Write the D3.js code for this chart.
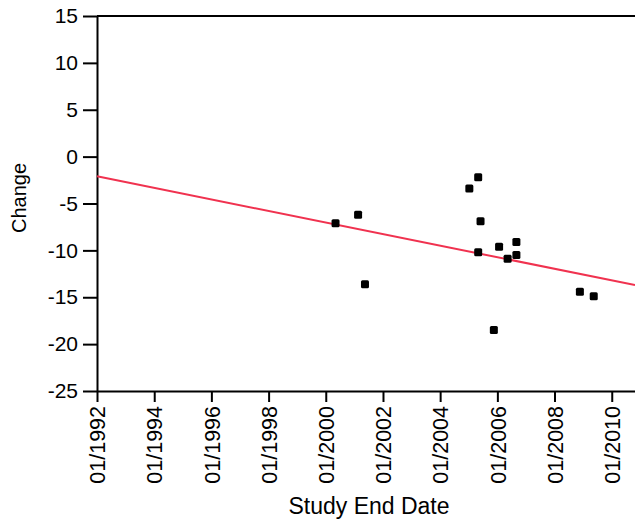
<!DOCTYPE html>
<html lang="en">
<head>
<meta charset="UTF-8">
<script src="https://d3js.org/d3.v7.min.js"></script>
<title>Change vs Study End Date</title>
<style>
  body { margin: 0; background: #fff; }
  text { font-family: "Liberation Sans", Arial, sans-serif; fill: #000; }
</style>
</head>
<body>
<script>
// values
const studyEndDates = ["2000-05-05", "2001-02-17", "2001-05-16", "2005-01-08", "2005-05-01",
  "2005-05-31", "2005-05-01", "2005-11-17", "2006-01-23", "2006-09-01",
  "2006-09-01", "2006-05-12", "2008-11-20", "2009-05-16"];
const changeValues = [-7.1, -6.2, -13.6, -3.4, -2.2, -6.9, -10.2, -18.5, -9.6, -9.1, -10.5, -10.9, -14.4, -14.9];
// fitted trend line, end points
const fitDates = ["1992-01-01", "2010-10-25"];
const fitValues = [-2.1, -13.7];
const yTicks = [15, 10, 5, 0, -5, -10, -15, -20, -25];

const width = 635, height = 519;
const margin = {top: 16, right: 0, bottom: 128, left: 97};
const parse = d3.timeParse("%Y-%m-%d");

const points = studyEndDates.map((d, i) => ({date: parse(d), value: changeValues[i]}));
const fit = fitDates.map((d, i) => ({date: parse(d), value: fitValues[i]}));

const svg = d3.select("body").append("svg")
  .attr("width", width)
  .attr("height", height);

const x = d3.scaleTime()
  .domain([parse("1992-01-01"), parse("2010-10-25")])
  .range([margin.left, width - margin.right]);
const y = d3.scaleLinear()
  .domain([-25, 15])
  .range([height - margin.bottom, margin.top]);

// top frame line
svg.append("line")
  .attr("x1", margin.left).attr("x2", width)
  .attr("y1", y(15)).attr("y2", y(15))
  .attr("stroke", "#000").attr("stroke-width", 2);

const xAxis = svg.append("g")
  .attr("transform", `translate(0,${y(-25)})`)
  .call(d3.axisBottom(x).ticks(d3.timeYear.every(2)).tickFormat(d3.timeFormat("%m/%Y"))
    .tickSize(11).tickSizeOuter(0).tickPadding(4));
xAxis.selectAll("text")
  .attr("font-size", 21.5)
  .attr("text-anchor", "end")
  .attr("dy", "0.36em")
  .attr("transform", "rotate(-90)")
  .attr("x", -15)
  .attr("y", 0);

const yAxis = svg.append("g")
  .attr("transform", `translate(${margin.left},0)`)
  .call(d3.axisLeft(y).tickValues(yTicks).tickFormat(d => String(d))
    .tickSize(14).tickSizeOuter(0).tickPadding(5));
yAxis.selectAll("text").attr("font-size", 21);

svg.selectAll(".domain, .tick line").attr("stroke", "#000").attr("stroke-width", 2);
svg.selectAll(".tick text").attr("fill", "#000");

// trend line
svg.append("path")
  .datum(fit)
  .attr("fill", "none")
  .attr("stroke", "#f0324f")
  .attr("stroke-width", 2)
  .attr("d", d3.line().x(d => x(d.date)).y(d => y(d.value)));

// data points
svg.selectAll("rect.pt")
  .data(points)
  .join("rect")
  .attr("class", "pt")
  .attr("x", d => x(d.date) - 4)
  .attr("y", d => y(d.value) - 4)
  .attr("width", 8)
  .attr("height", 8)
  .attr("rx", 1.5)
  .attr("fill", "#000");

svg.append("text")
  .attr("x", 369)
  .attr("y", 514)
  .attr("text-anchor", "middle")
  .attr("font-size", 23)
  .text("Study End Date");

svg.append("text")
  .attr("transform", "translate(26,198) rotate(-90)")
  .attr("text-anchor", "middle")
  .attr("font-size", 20)
  .text("Change");
</script>
</body>
</html>
